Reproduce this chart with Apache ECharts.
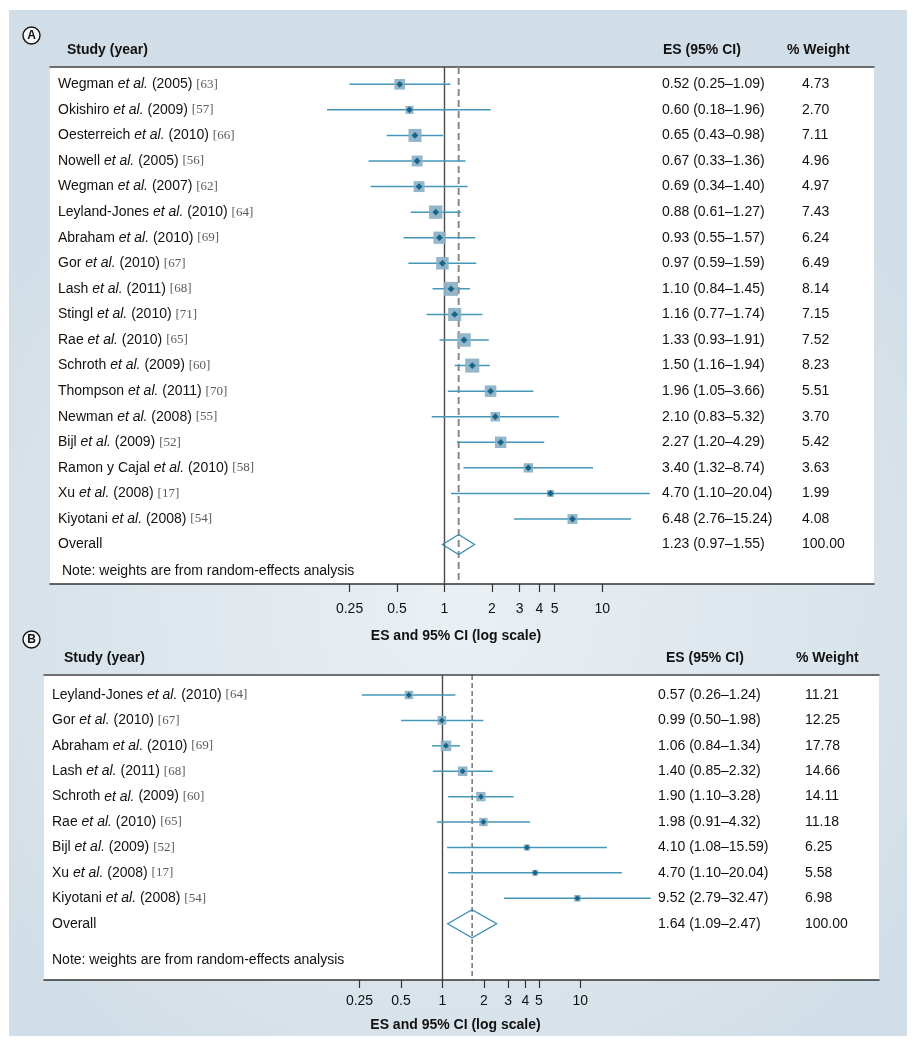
<!DOCTYPE html>
<html><head><meta charset="utf-8">
<script src="https://cdn.jsdelivr.net/npm/echarts@6/dist/echarts.min.js"></script>
<style>html,body{margin:0;padding:0;background:#fff}#c{width:912px;height:1050px}</style>
</head><body><div id="c"></div>
<script>
// ---------- data : panel A ----------
const studiesA = ['Wegman','Okishiro','Oesterreich','Nowell','Wegman','Leyland-Jones','Abraham','Gor','Lash','Stingl','Rae','Schroth','Thompson','Newman','Bijl','Ramon y Cajal','Xu','Kiyotani'];
const yearsA = [2005,2009,2010,2005,2007,2010,2010,2010,2011,2010,2010,2009,2011,2008,2009,2010,2008,2008];
const refsA = [63,57,66,56,62,64,69,67,68,71,65,60,70,55,52,58,17,54];
const esA = [0.52,0.60,0.65,0.67,0.69,0.88,0.93,0.97,1.10,1.16,1.33,1.50,1.96,2.10,2.27,3.40,4.70,6.48];
const loA = [0.25,0.18,0.43,0.33,0.34,0.61,0.55,0.59,0.84,0.77,0.93,1.16,1.05,0.83,1.20,1.32,1.10,2.76];
const hiA = [1.09,1.96,0.98,1.36,1.40,1.27,1.57,1.59,1.45,1.74,1.91,1.94,3.66,5.32,4.29,8.74,20.04,15.24];
const weightA = [4.73,2.70,7.11,4.96,4.97,7.43,6.24,6.49,8.14,7.15,7.52,8.23,5.51,3.70,5.42,3.63,1.99,4.08];
const overallA = {es:1.23, lo:0.97, hi:1.55, weight:100.00};

// ---------- data : panel B ----------
const studiesB = ['Leyland-Jones','Gor','Abraham','Lash','Schroth','Rae','Bijl','Xu','Kiyotani'];
const yearsB = [2010,2010,2010,2011,2009,2010,2009,2008,2008];
const refsB = [64,67,69,68,60,65,52,17,54];
const esB = [0.57,0.99,1.06,1.40,1.90,1.98,4.10,4.70,9.52];
const loB = [0.26,0.50,0.84,0.85,1.10,0.91,1.08,1.10,2.79];
const hiB = [1.24,1.98,1.34,2.32,3.28,4.32,15.59,20.04,32.47];
const weightB = [11.21,12.25,17.78,14.66,14.11,11.18,6.25,5.58,6.98];
const overallB = {es:1.64, lo:1.09, hi:2.47, weight:100.00};

// ---------- axis ticks ----------
const tickValues = [0.25,0.5,1,2,3,4,5,10];
const tickLabels = ['0.25','0.5','1','2','3','4','5','10'];
const axisTitle = 'ES and 95% CI (log scale)';
const noteText = 'Note: weights are from random-effects analysis';

const SANS = '"Liberation Sans", Arial, Helvetica, sans-serif';
const SERIF = '"Liberation Serif", "Times New Roman", serif';
const L = Math.log10;
const tickLogs = tickValues.map(L);
const f2 = v => v.toFixed(2);
const ciText = (es, lo, hi) => f2(es) + ' (' + f2(lo) + '\u2013' + f2(hi) + ')';

const rich = {
  n: {fontFamily: SANS, fontSize: 14, fill: '#111'},
  i: {fontFamily: SANS, fontSize: 14, fontStyle: 'italic', fill: '#111'},
  r: {fontFamily: SERIF, fontSize: 13, fill: '#5a5a5a'}
};

// panel layout
const P = {
  A: {left: 50, right: 874, top: 67, bottom: 584, one: 444.5, dec: 157.7, row0: 84.3, step: 25.57,
      labelX: 58, ciX: 662, wX: 802, k: 4.9, d: 3.4, dh: 10, tickMargin: 18, nameGap: 45,
      dashColor: '#8a8a8a', dashWidth: 2, dash: [7, 4]},
  B: {left: 44, right: 879, top: 675, bottom: 980, one: 442.5, dec: 137.8, row0: 695, step: 25.41,
      labelX: 52, ciX: 658, wX: 805, k: 2.5, d: 3.0, dh: 14, tickMargin: 14, nameGap: 38,
      dashColor: '#333', dashWidth: 1, dash: [5, 3]}
};
function ext(p) {
  return {
    xmin: (p.left - p.one) / p.dec, xmax: (p.right - p.one) / p.dec,
    ymin: (p.top - p.row0) / p.step, ymax: (p.bottom - p.row0) / p.step
  };
}
const EA = ext(P.A), EB = ext(P.B);

function xAxes(gi, p, e) {
  return [{
    gridIndex: gi, type: 'value', position: 'bottom', min: e.xmin, max: e.xmax,
    axisLine: {show: true, onZero: false, lineStyle: {color: '#333', width: 1.5}},
    axisTick: {show: true, customValues: tickLogs, length: 8, inside: false, lineStyle: {color: '#333', width: 1.2}},
    axisLabel: {show: true, customValues: tickLogs, margin: p.tickMargin, fontSize: 14, color: '#111', fontFamily: SANS,
      formatter: v => { const i = tickLogs.findIndex(t => Math.abs(t - v) < 1e-6); return i >= 0 ? tickLabels[i] : ''; }},
    splitLine: {show: false},
    name: axisTitle, nameLocation: 'middle', nameGap: p.nameGap,
    nameTextStyle: {fontFamily: SANS, fontSize: 14, fontWeight: 'bold', color: '#111', padding: [0, 12, 0, 0]}
  }, {
    gridIndex: gi, type: 'value', position: 'top', min: e.xmin, max: e.xmax,
    axisLine: {show: true, onZero: false, lineStyle: {color: '#444', width: 1.5}},
    axisTick: {show: false}, axisLabel: {show: false}, splitLine: {show: false}
  }];
}

function refRender(p) {
  return function (params, api) {
    const cs = params.coordSys;
    const x = api.coord([api.value(0), 0])[0];
    const dashed = api.value(1) === 1;
    return {
      type: 'line',
      shape: {x1: x, y1: cs.y, x2: x, y2: cs.y + cs.height},
      style: dashed ? {stroke: p.dashColor, lineWidth: p.dashWidth, lineDash: p.dash}
                    : {stroke: '#4a4a4a', lineWidth: 1.4}
    };
  };
}

function studyRender(p, names, years, refs) {
  return function (params, api) {
    const es = api.value(0), row = api.value(1), lo = api.value(2), hi = api.value(3), w = api.value(4), idx = api.value(5);
    const c = api.coord([es, row]), cl = api.coord([lo, row]), ch = api.coord([hi, row]);
    const s = p.k * Math.sqrt(w), d = p.d;
    const label = '{n|' + names[idx] + ' }{i|et al.}{n| (' + years[idx] + ') }{r|[' + refs[idx] + ']}';
    return {
      type: 'group', children: [
        {type: 'line', shape: {x1: cl[0], y1: cl[1], x2: ch[0], y2: ch[1]}, style: {stroke: '#4597b8', lineWidth: 1.5}},
        {type: 'rect', shape: {x: c[0] - s / 2, y: c[1] - s / 2, width: s, height: s}, style: {fill: '#8ab0c6', opacity: 0.92}},
        {type: 'polygon', shape: {points: [[c[0] - d, c[1]], [c[0], c[1] - d], [c[0] + d, c[1]], [c[0], c[1] + d]]}, style: {fill: '#19658a'}},
        {type: 'text', style: {x: p.labelX, y: c[1], text: label, rich: rich, verticalAlign: 'middle', align: 'left'}},
        {type: 'text', style: {x: p.ciX, y: c[1], text: ciText(Math.pow(10, es), Math.pow(10, lo), Math.pow(10, hi)),
          fontFamily: SANS, fontSize: 14, fill: '#111', verticalAlign: 'middle', align: 'left'}},
        {type: 'text', style: {x: p.wX, y: c[1], text: f2(w), fontFamily: SANS, fontSize: 14, fill: '#111', verticalAlign: 'middle', align: 'left'}}
      ]
    };
  };
}

function overallRender(p) {
  return function (params, api) {
    const es = api.value(0), row = api.value(1), lo = api.value(2), hi = api.value(3), w = api.value(4);
    const c = api.coord([es, row]), cl = api.coord([lo, row]), ch = api.coord([hi, row]);
    return {
      type: 'group', children: [
        {type: 'polygon', shape: {points: [[cl[0], c[1]], [c[0], c[1] - p.dh], [ch[0], c[1]], [c[0], c[1] + p.dh]]},
          style: {fill: 'none', stroke: '#3a8db0', lineWidth: 1.3}},
        {type: 'text', style: {x: p.labelX, y: c[1], text: 'Overall', fontFamily: SANS, fontSize: 14, fill: '#111', verticalAlign: 'middle'}},
        {type: 'text', style: {x: p.ciX, y: c[1], text: ciText(Math.pow(10, es), Math.pow(10, lo), Math.pow(10, hi)),
          fontFamily: SANS, fontSize: 14, fill: '#111', verticalAlign: 'middle'}},
        {type: 'text', style: {x: p.wX, y: c[1], text: f2(w), fontFamily: SANS, fontSize: 14, fill: '#111', verticalAlign: 'middle'}}
      ]
    };
  };
}

function studyData(es, lo, hi, w) {
  return es.map((v, i) => [L(v), i, L(lo[i]), L(hi[i]), w[i], i]);
}

function panelSeries(xi, yi, p, names, years, refs, es, lo, hi, w, ov) {
  return [
    {type: 'custom', xAxisIndex: xi, yAxisIndex: yi, silent: true, z: 1, renderItem: refRender(p),
      encode: {x: 0, y: 1}, data: [[0, 0], [L(ov.es), 1]]},
    {type: 'custom', xAxisIndex: xi, yAxisIndex: yi, silent: true, z: 3, renderItem: studyRender(p, names, years, refs),
      encode: {x: [0, 2, 3], y: 1}, data: studyData(es, lo, hi, w)},
    {type: 'custom', xAxisIndex: xi, yAxisIndex: yi, silent: true, z: 3, renderItem: overallRender(p),
      encode: {x: [0, 2, 3], y: 1}, data: [[L(ov.es), es.length, L(ov.lo), L(ov.hi), ov.weight]]}
  ];
}

function headerTexts(y, studyX, esX, wX) {
  const st = {fontFamily: SANS, fontSize: 14, fontWeight: 'bold', fill: '#111', verticalAlign: 'middle'};
  return [
    {type: 'text', z: 5, style: Object.assign({x: studyX, y: y, text: 'Study (year)'}, st)},
    {type: 'text', z: 5, style: Object.assign({x: esX, y: y, text: 'ES (95% CI)'}, st)},
    {type: 'text', z: 5, style: Object.assign({x: wX, y: y, text: '% Weight'}, st)}
  ];
}
function circleLabel(cx, cy, t) {
  return [
    {type: 'circle', z: 5, shape: {cx: cx, cy: cy, r: 8.5}, style: {fill: '#f3f6f8', stroke: '#111', lineWidth: 1.4}},
    {type: 'text', z: 6, style: {x: cx, y: cy + 0.5, text: t, fontFamily: SANS, fontSize: 12, fontWeight: 'bold', fill: '#111', align: 'center', verticalAlign: 'middle'}}
  ];
}

const chart = echarts.init(document.getElementById('c'), null, {renderer: 'canvas'});
chart.setOption({
  animation: false,
  backgroundColor: '#fff',
  graphic: [
    {type: 'rect', z: -10, shape: {x: 9, y: 10, width: 898, height: 1026},
      style: {fill: {type: 'radial', x: 0.5, y: 0.58, r: 0.62, colorStops: [{offset: 0, color: '#eaf0f4'}, {offset: 1, color: '#d2dee7'}]}}},
    ...circleLabel(31.5, 35.5, 'A'),
    ...circleLabel(31.5, 639.5, 'B'),
    ...headerTexts(50, 67, 663, 787),
    ...headerTexts(658, 64, 666, 796),
    {type: 'text', z: 5, style: {x: 62, y: 571.5, text: noteText, fontFamily: SANS, fontSize: 14, fill: '#111', verticalAlign: 'middle'}},
    {type: 'text', z: 5, style: {x: 52, y: 960, text: noteText, fontFamily: SANS, fontSize: 14, fill: '#111', verticalAlign: 'middle'}}
  ],
  grid: [
    {left: P.A.left, top: P.A.top, width: P.A.right - P.A.left, height: P.A.bottom - P.A.top, show: true, backgroundColor: '#fff', borderWidth: 0, containLabel: false, outerBoundsMode: 'none'},
    {left: P.B.left, top: P.B.top, width: P.B.right - P.B.left, height: P.B.bottom - P.B.top, show: true, backgroundColor: '#fff', borderWidth: 0, containLabel: false, outerBoundsMode: 'none'}
  ],
  xAxis: [...xAxes(0, P.A, EA), ...xAxes(1, P.B, EB)],
  yAxis: [
    {gridIndex: 0, type: 'value', inverse: true, min: EA.ymin, max: EA.ymax, show: false},
    {gridIndex: 1, type: 'value', inverse: true, min: EB.ymin, max: EB.ymax, show: false}
  ],
  series: [
    ...panelSeries(0, 0, P.A, studiesA, yearsA, refsA, esA, loA, hiA, weightA, overallA),
    ...panelSeries(2, 1, P.B, studiesB, yearsB, refsB, esB, loB, hiB, weightB, overallB)
  ]
});
</script></body></html>
